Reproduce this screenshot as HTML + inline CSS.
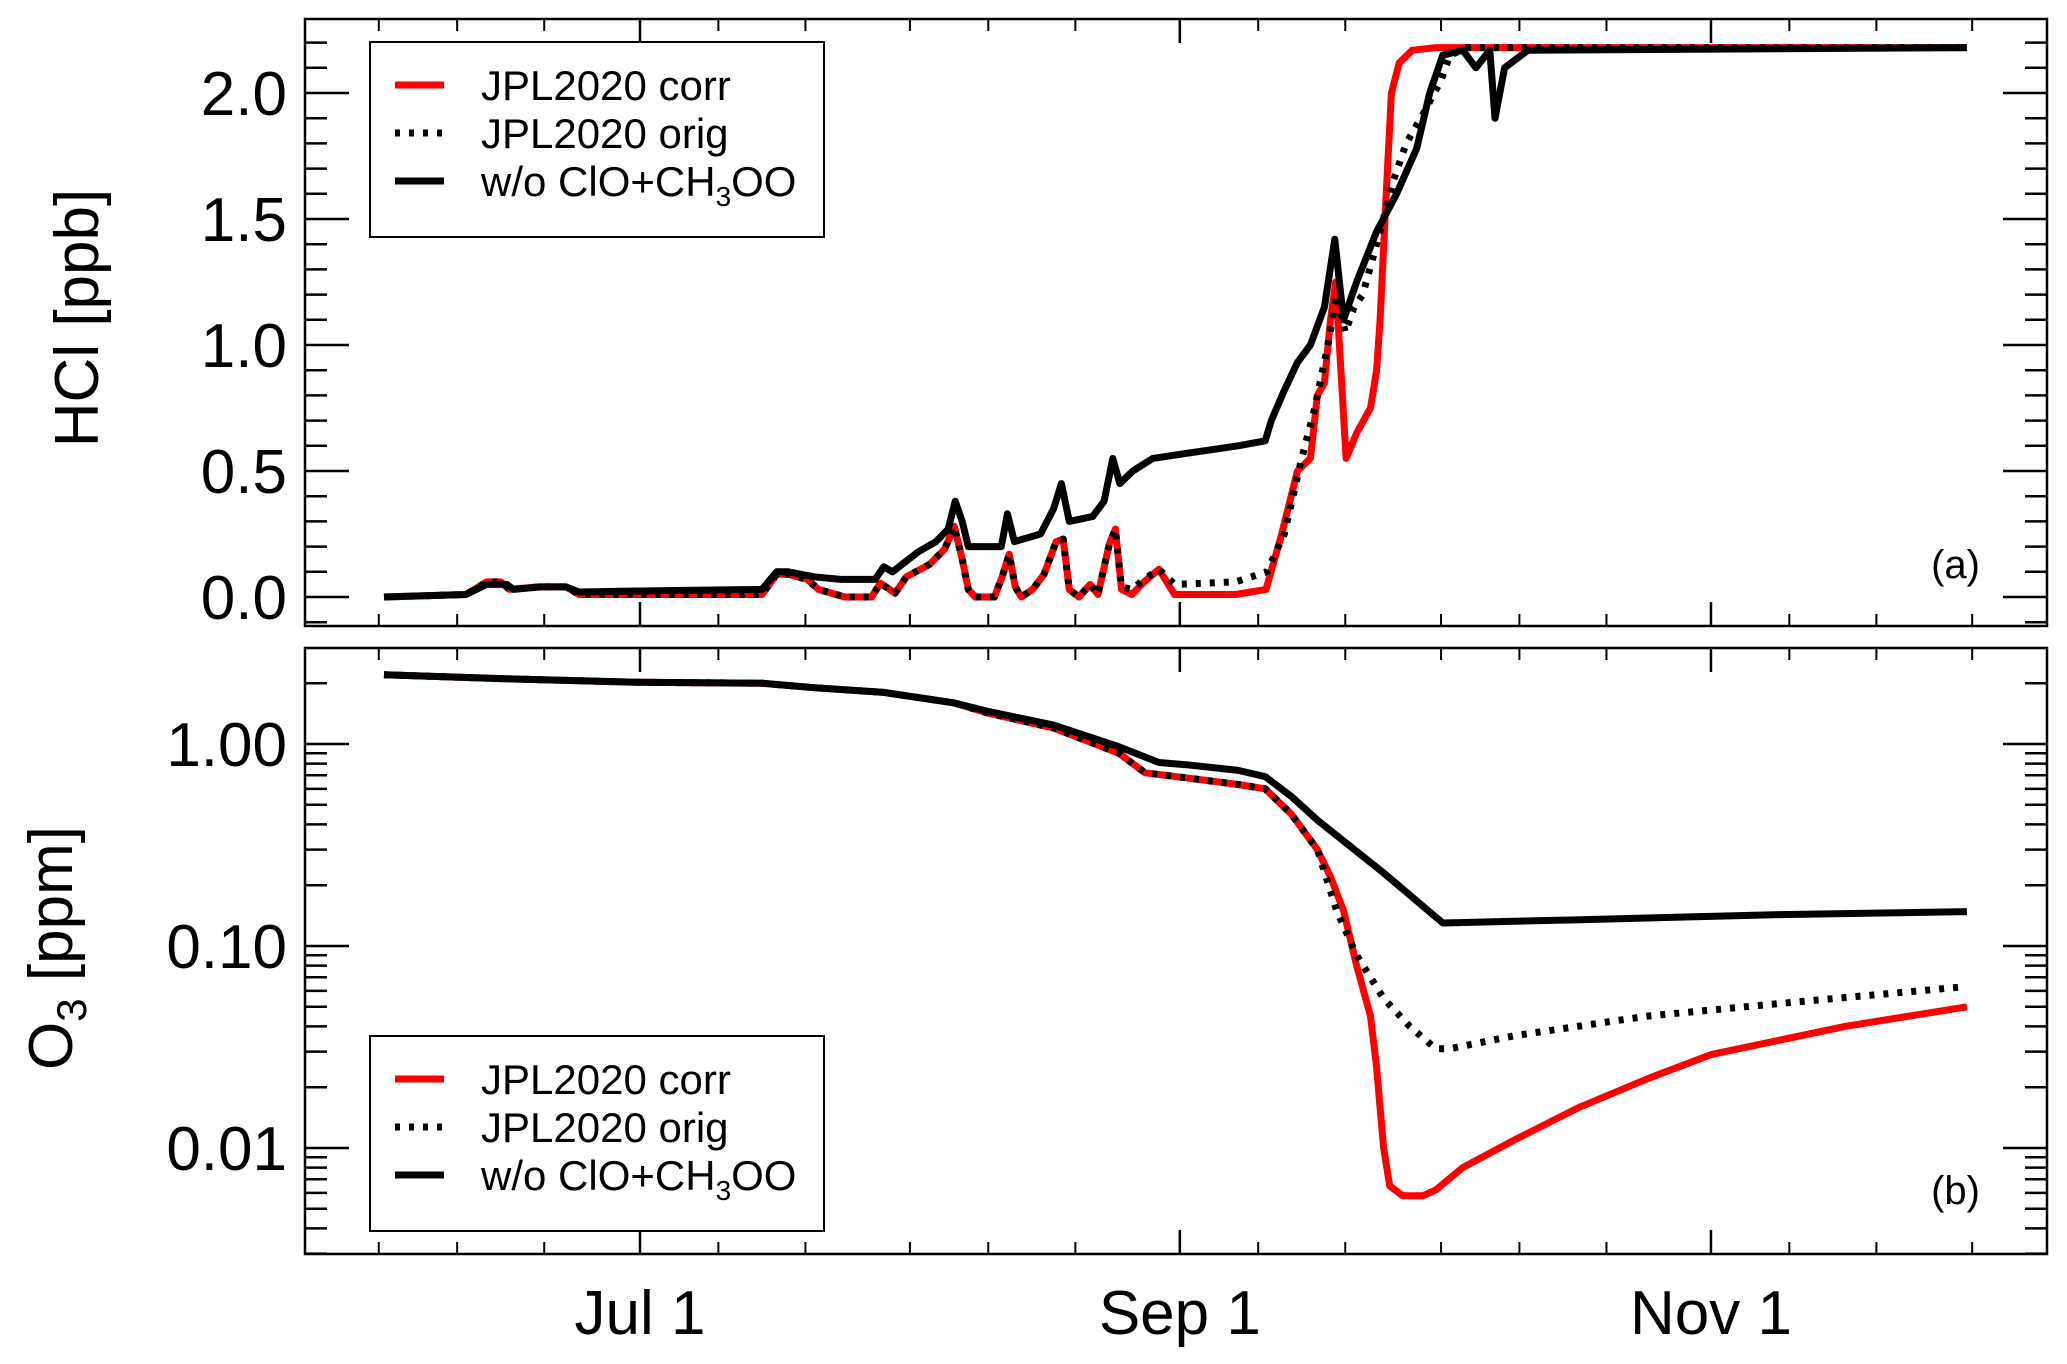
<!DOCTYPE html>
<html><head><meta charset="utf-8"><style>
html,body{margin:0;padding:0;background:#fff}
svg{display:block;font-family:"Liberation Sans",Arial,sans-serif}
</style></head><body>
<svg id="chart" width="2067" height="1364" viewBox="0 0 2067 1364" xmlns="http://www.w3.org/2000/svg">
<rect width="2067" height="1364" fill="#fff"/>
<g id="axes"></g>
<g id="series"></g>
<g id="legends"></g>
</svg>
<script>
// ---- data (day offset from Jul 1) ----
const hclCorrDays = [-29.4,-20,-17.6,-16,-15,-11.5,-8.5,-7,2,14,15.7,17,19.2,20.5,23.5,26.6,27.6,29.3,30.6,33.3,35,36.1,37,37.7,38.5,40.7,41.6,42.4,43.1,43.8,45.1,46.4,47.8,48.6,49.3,50.4,51.7,52.6,53.9,54.6,55.3,56.5,57.9,59.6,61.4,68.4,71.9,73.7,75.5,77,77.8,78.6,79.3,79.9,80.5,81.1,82.3,83.9,84.6,85,85.7,86.3,87.2,88.7,91.4,152.4];
const hclCorrVals = [0,0.01,0.06,0.06,0.03,0.04,0.04,0.01,0.01,0.01,0.09,0.09,0.07,0.03,0,0,0.055,0.015,0.08,0.13,0.19,0.28,0.15,0.03,0,0,0.08,0.17,0.04,0,0.03,0.09,0.22,0.23,0.03,0,0.05,0.01,0.21,0.27,0.03,0.01,0.06,0.11,0.01,0.01,0.03,0.25,0.5,0.55,0.8,0.85,1.1,1.25,0.9,0.55,0.65,0.75,0.9,1.1,1.6,2.0,2.12,2.17,2.18,2.18];
const hclOrigDays = [-29.4,-20,-17.6,-16,-15,-11.5,-8.5,-7,2,14,15.7,17,19.2,20.5,23.5,26.6,27.6,29.3,30.6,33.3,35,36.1,37,37.7,38.5,40.7,41.6,42.4,43.1,43.8,45.1,46.4,47.8,48.6,49.3,50.4,51.7,52.6,53.9,54.6,55.3,56.5,57.9,59.6,61.4,68.4,72,74,76,77.5,79,80,81,82,83,85,86.5,88,90,92,93,95,152.4];
const hclOrigVals = [0,0.01,0.06,0.06,0.03,0.04,0.04,0.01,0.01,0.01,0.09,0.09,0.07,0.03,0,0,0.055,0.015,0.08,0.13,0.19,0.28,0.15,0.03,0,0,0.08,0.17,0.04,0,0.03,0.09,0.22,0.23,0.03,0,0.05,0.01,0.21,0.27,0.04,0.03,0.07,0.11,0.05,0.06,0.1,0.25,0.55,0.75,1.0,1.2,1.05,1.15,1.2,1.45,1.65,1.8,1.92,2.05,2.15,2.18,2.18];
const hclWoDays = [-29.4,-20,-17.6,-15.3,-14.5,-11.5,-8.5,-7,2,14,15.7,17,20,23,27,28,29,32,34,35.4,36.2,37,37.7,41.5,42.2,43,46,47.5,48.4,49.3,52,53.3,54.3,55.1,56.6,58.9,62.7,68.7,71.8,72.5,74,75.5,77,78.6,79.8,80.8,82.3,84.6,86.9,89.2,90.7,92.2,94.5,96,97.6,98.2,99.3,102,152.4];
const hclWoVals = [0,0.01,0.05,0.05,0.03,0.04,0.04,0.02,0.025,0.03,0.1,0.1,0.08,0.07,0.07,0.12,0.1,0.18,0.22,0.27,0.38,0.3,0.2,0.2,0.33,0.22,0.25,0.35,0.45,0.3,0.32,0.38,0.55,0.45,0.5,0.55,0.57,0.6,0.62,0.7,0.82,0.93,1.0,1.15,1.42,1.1,1.25,1.45,1.6,1.78,2.0,2.15,2.17,2.1,2.17,1.9,2.1,2.17,2.18];

const o3WoDays = [-29.4,-15,0,14,20,28,36,40,47.5,55,59.6,62.7,68.7,71.8,74.8,77.8,85.4,92.2,108,131,152.4];
const o3WoVals = [2.2,2.1,2.02,2.0,1.9,1.8,1.6,1.45,1.24,0.97,0.81,0.79,0.74,0.69,0.55,0.42,0.23,0.13,0.135,0.143,0.148];
const o3CorrDays = [-29.4,-15,0,14,20,28,36,40,47.5,55,58,62.7,68.7,71.8,74.8,77.8,79.3,80.8,82.3,83.9,84.6,85.4,86.1,87.6,89.9,91.4,94.5,100.5,108,115.7,123,138.4,152.4];
const o3CorrVals = [2.2,2.1,2.02,2.0,1.9,1.8,1.6,1.42,1.2,0.9,0.72,0.68,0.63,0.6,0.45,0.3,0.22,0.15,0.08,0.045,0.025,0.01,0.0065,0.0058,0.0058,0.0062,0.008,0.011,0.016,0.022,0.029,0.04,0.05];
const o3OrigDays = [-29.4,-15,0,14,20,28,36,40,47.5,55,58,62.7,68.7,71.8,74.8,77.8,80,82.3,85.4,88.4,91.4,93,100.5,115.7,131,152.4];
const o3OrigVals = [2.2,2.1,2.02,2.0,1.9,1.8,1.6,1.42,1.2,0.9,0.72,0.68,0.63,0.6,0.45,0.3,0.15,0.09,0.055,0.04,0.031,0.031,0.036,0.045,0.052,0.063];

const hclTickVals = [0.0,0.5,1.0,1.5,2.0];
const hclTickLabels = ["0.0","0.5","1.0","1.5","2.0"];
const o3TickVals = [0.01,0.1,1];
const o3TickLabels = ["0.01","0.10","1.00"];
const monthTickDays = [0,62,123];
const monthTickLabels = ["Jul 1","Sep 1","Nov 1"];
const minorTickDays = [-30,-21,-11,9,19,31,40,50,71,81,92,101,111,132,142,153];

// ---- layout ----
const L=305,R=2047,T1=19,B1=626,T2=648,B2=1254;
const NS="http://www.w3.org/2000/svg";
function xs(d){return 640+d*8.707;}
function y1(v){return 597-v*252;}
function y2(v){return 744-Math.log10(v)*202;}
function mk(tag,attrs,parent){const e=document.createElementNS(NS,tag);for(const k in attrs)e.setAttribute(k,attrs[k]);parent.appendChild(e);return e;}
const axes=document.getElementById('axes'),series=document.getElementById('series'),legends=document.getElementById('legends');

function frame(top,bot,name){
  const r=mk('rect',{x:L,y:top,width:R-L,height:bot-top,fill:'none',stroke:'#000','stroke-width':2.5},axes);
  
  
  monthTickDays.forEach(d=>{
    mk('line',{x1:xs(d),x2:xs(d),y1:bot,y2:bot-24,stroke:'#000','stroke-width':2.5},axes);
    mk('line',{x1:xs(d),x2:xs(d),y1:top,y2:top+24,stroke:'#000','stroke-width':2.5},axes);
  });
  minorTickDays.forEach(d=>{
    mk('line',{x1:xs(d),x2:xs(d),y1:bot,y2:bot-12,stroke:'#000','stroke-width':2},axes);
    mk('line',{x1:xs(d),x2:xs(d),y1:top,y2:top+12,stroke:'#000','stroke-width':2},axes);
  });
}
frame(T1,B1,'hcl-panel');
frame(T2,B2,'o3-panel');

for(let v=-0.1;v<=2.31;v+=0.1){
  const y=y1(v); if(y<T1||y>B1) continue;
  const major=Math.abs(v*2-Math.round(v*2))<1e-6;
  const len=major?44:22;
  mk('line',{x1:L,x2:L+len,y1:y,y2:y,stroke:'#000','stroke-width':2.5},axes);
  mk('line',{x1:R,x2:R-len,y1:y,y2:y,stroke:'#000','stroke-width':2.5},axes);
}
hclTickVals.forEach((v,i)=>{
  const t=mk('text',{x:287,y:y1(v)+22,'font-size':62,'text-anchor':'end',fill:'#000'},axes);
  t.textContent=hclTickLabels[i];
  
  
});
[0.001,0.01,0.1,1].forEach(dec=>{
  for(let m=1;m<10;m++){
    const v=dec*m; const y=y2(v); if(y<T2||y>B2) continue;
    const len=m===1?44:22;
    mk('line',{x1:L,x2:L+len,y1:y,y2:y,stroke:'#000','stroke-width':2.5},axes);
    mk('line',{x1:R,x2:R-len,y1:y,y2:y,stroke:'#000','stroke-width':2.5},axes);
  }
});
o3TickVals.forEach((v,i)=>{
  const t=mk('text',{x:287,y:y2(v)+22,'font-size':62,'text-anchor':'end',fill:'#000'},axes);
  t.textContent=o3TickLabels[i];
  
  
});
monthTickDays.forEach((d,i)=>{
  const t=mk('text',{x:xs(d),y:1334,'font-size':62,'text-anchor':'middle',fill:'#000'},axes);
  t.textContent=monthTickLabels[i];
  
  
});
let t=mk('text',{x:0,y:0,'font-size':62,'text-anchor':'middle',fill:'#000',transform:'translate(98,318) rotate(-90)'},axes);
t.textContent='HCl [ppb]';


t=mk('text',{x:0,y:0,'font-size':62,'text-anchor':'middle',fill:'#000',transform:'translate(72,948) rotate(-90)'},axes);
t.innerHTML='O<tspan font-size="42" dy="14">3</tspan><tspan dy="-14"> [ppm]</tspan>';


t=mk('text',{x:1980,y:578,'font-size':40,'text-anchor':'end',fill:'#000'},axes);
t.textContent='(a)';


t=mk('text',{x:1980,y:1204,'font-size':40,'text-anchor':'end',fill:'#000'},axes);
t.textContent='(b)';



function line(days,vals,yf,style,name){
  const d=days.map((x,i)=>(i?'L':'M')+xs(x).toFixed(1)+','+yf(vals[i]).toFixed(1)).join('');
  const p=mk('path',Object.assign({d:d,fill:'none','stroke-linejoin':'round'},style),series);
  
  
}
const sCorr={stroke:'#ff0000','stroke-width':7};
const sOrig={stroke:'#000','stroke-width':7,'stroke-dasharray':'5 9'};
const sWo={stroke:'#000','stroke-width':7};
line(hclCorrDays,hclCorrVals,y1,sCorr,'hcl-jpl2020-corr-line');
line(hclOrigDays,hclOrigVals,y1,sOrig,'hcl-jpl2020-orig-line');
line(hclWoDays,hclWoVals,y1,sWo,'hcl-wo-clo-ch3oo-line');
line(o3CorrDays,o3CorrVals,y2,sCorr,'o3-jpl2020-corr-line');
line(o3OrigDays,o3OrigVals,y2,sOrig,'o3-jpl2020-orig-line');
line(o3WoDays,o3WoVals,y2,sWo,'o3-wo-clo-ch3oo-line');

function legend(top,name){
  const g=mk('g',{},legends);
  
  
  mk('rect',{x:370,y:top,width:454,height:195,fill:'#fff',stroke:'#000','stroke-width':2},g);
  const rows=[['JPL2020 corr',sCorr],['JPL2020 orig',sOrig],['w/o ClO+CH3OO',sWo]];
  rows.forEach((r,i)=>{
    const yy=top+43+i*48;
    const ln=mk('line',Object.assign({x1:395,x2:444,y1:yy,y2:yy},r[1]),g);
    
    
    const tx=mk('text',{x:481,y:yy+15,'font-size':42,fill:'#000'},g);
    if(i===2){tx.innerHTML='w/o ClO+CH<tspan font-size="28" dy="10">3</tspan><tspan dy="-10">OO</tspan>';}
    else tx.textContent=r[0];
    
    
  });
}
legend(42,'hcl-legend');
legend(1036,'o3-legend');
</script>
</body></html>
